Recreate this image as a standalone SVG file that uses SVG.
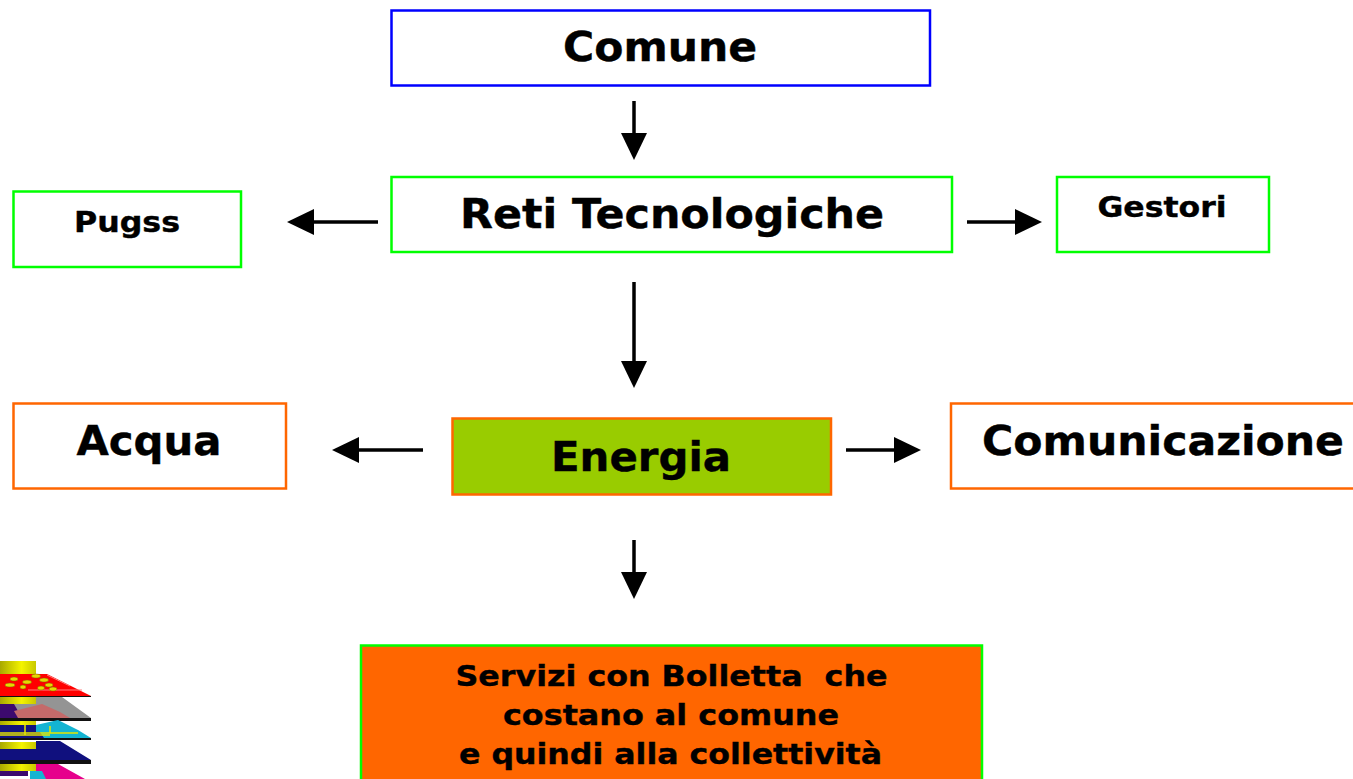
<svg xmlns="http://www.w3.org/2000/svg" width="1353" height="779" viewBox="0 0 1353 779">
<style>
.b{fill:#fff;stroke-width:2.500}
.g{stroke:#00ff00}.o{stroke:#ff6600}
text{font-family:"DejaVu Sans",Verdana,sans-serif;font-weight:700;fill:#000;stroke:#000;stroke-width:.4;text-anchor:middle;white-space:pre}
.l{font-size:40px}.m{font-size:29px}.s{font-size:28px}
.c line{stroke:#000;stroke-width:3.500}
</style>
<defs>
<marker id="a" markerUnits="userSpaceOnUse" markerWidth="28" markerHeight="28" refX="20" refY="13" orient="auto"><path d="M0 0L27 13L0 26z" fill="#000"/></marker>
<linearGradient id="y"><stop offset="0" stop-color="#a8a800"/><stop offset=".6" stop-color="#f4f400"/><stop offset="1" stop-color="#c8c800"/></linearGradient>
</defs>
<rect width="1353" height="779" fill="#fff"/>
<g id="connectors" class="c">
<line x1="634" y1="101" x2="634" y2="153" marker-end="url(#a)"/>
<line x1="378" y1="222" x2="294" y2="222" marker-end="url(#a)"/>
<line x1="967" y1="222" x2="1035" y2="222" marker-end="url(#a)"/>
<line x1="634" y1="282" x2="634" y2="381" marker-end="url(#a)"/>
<line x1="423" y1="450" x2="339" y2="450" marker-end="url(#a)"/>
<line x1="846" y1="450" x2="914" y2="450" marker-end="url(#a)"/>
<line x1="634" y1="540" x2="634" y2="592" marker-end="url(#a)"/>
</g>
<g id="comune"><rect class="b" x="391.500" y="10.500" width="538.500" height="75" stroke="#0000ff"/><text class="l" x="660" y="61" textLength="194" lengthAdjust="spacingAndGlyphs">Comune</text></g>
<g id="reti"><rect class="b g" x="391.500" y="177" width="560.500" height="75"/><text class="l" x="672" y="228" textLength="424" lengthAdjust="spacingAndGlyphs">Reti Tecnologiche</text></g>
<g id="pugss"><rect class="b g" x="13.500" y="191.500" width="227.500" height="75.500"/><text class="s" x="127" y="232" textLength="106" lengthAdjust="spacingAndGlyphs">Pugss</text></g>
<g id="gestori"><rect class="b g" x="1057" y="177" width="212" height="75"/><text class="s" x="1162" y="217" textLength="129" lengthAdjust="spacingAndGlyphs">Gestori</text></g>
<g id="acqua"><rect class="b o" x="13.500" y="403.500" width="272.500" height="85"/><text class="l" x="149" y="455" textLength="145" lengthAdjust="spacingAndGlyphs">Acqua</text></g>
<g id="energia"><rect x="452.500" y="418.500" width="378.500" height="76" fill="#99cc00" stroke="#ff6600" stroke-width="2.500"/><text class="l" x="641" y="471" textLength="180" lengthAdjust="spacingAndGlyphs">Energia</text></g>
<g id="comunicazione"><rect class="b o" x="951" y="403.500" width="420" height="85"/><text class="l" x="1163" y="455" textLength="362" lengthAdjust="spacingAndGlyphs">Comunicazione</text></g>
<g id="servizi"><rect x="361" y="645.500" width="621" height="150" fill="#ff6600" stroke="#00ff00" stroke-width="2.500"/>
<text class="m" x="671.500" y="686" textLength="432" lengthAdjust="spacingAndGlyphs">Servizi con Bolletta  che</text>
<text class="m" x="671" y="725" textLength="336" lengthAdjust="spacingAndGlyphs">costano al comune</text>
<text class="m" x="670.500" y="764" textLength="423" lengthAdjust="spacingAndGlyphs">e quindi alla collettività</text></g>
<g id="stack">
<rect x="0" y="661" width="36" height="13" fill="url(#y)"/>
<rect x="0" y="697" width="36" height="7" fill="url(#y)"/>
<rect x="0" y="720" width="36" height="5" fill="url(#y)"/>
<rect x="0" y="742" width="36" height="7" fill="url(#y)"/>
<rect x="0" y="764" width="36" height="7" fill="url(#y)"/>
<path d="M36 697H62L91 718H0V704H36z" fill="#949494"/>
<path d="M0 704H14L18 711V718H0z" fill="#3c0a6e"/>
<path d="M14 711L42 704L60 712L70 718H18z" fill="#c46a6a"/>
<path d="M0 718H91V721H0z" fill="#111"/>
<path d="M0 725H36L58 720L78 730L91 738H0z" fill="#14b4d2"/>
<path d="M0 725H36V732H40L44 738H0z" fill="#12127e"/>
<path d="M0 733H78M0 735H50M25 725V735M50 726V733" stroke="#e6e600" stroke-width="1.500" fill="none"/>
<path d="M0 738H91V740H0z" fill="#111"/>
<path d="M0 749H36V741H60L91 760H0z" fill="#10107e"/>
<path d="M0 760H91V764H0z" fill="#111"/>
<path d="M36 764V771H30V779H85L58 764z" fill="#e6008c"/>
<path d="M0 771H28V776H0z" fill="#3c0a6e"/>
<path d="M30 771H42L46 779H30z" fill="#14b4d2"/>
<path d="M0 674H47L91 696H0z" fill="#ff0000"/>
<path d="M0 696H91V697H0z" fill="#111"/>
<path d="M28 690H82M47 675L70 686" stroke="#ff8080" fill="none"/>
<g fill="#e6d800" stroke="#806000" stroke-width=".5"><ellipse cx="36" cy="676" rx="4.500" ry="2"/><ellipse cx="14" cy="679" rx="4" ry="2"/><ellipse cx="27" cy="682" rx="4.500" ry="2"/><ellipse cx="44" cy="680" rx="4.500" ry="2"/><ellipse cx="10" cy="685" rx="5" ry="2"/><ellipse cx="49" cy="685" rx="4" ry="2"/><ellipse cx="23" cy="687" rx="3" ry="2"/><ellipse cx="41" cy="688" rx="3.500" ry="2"/><ellipse cx="53" cy="689" rx="4" ry="2"/></g>
</g>
</svg>
